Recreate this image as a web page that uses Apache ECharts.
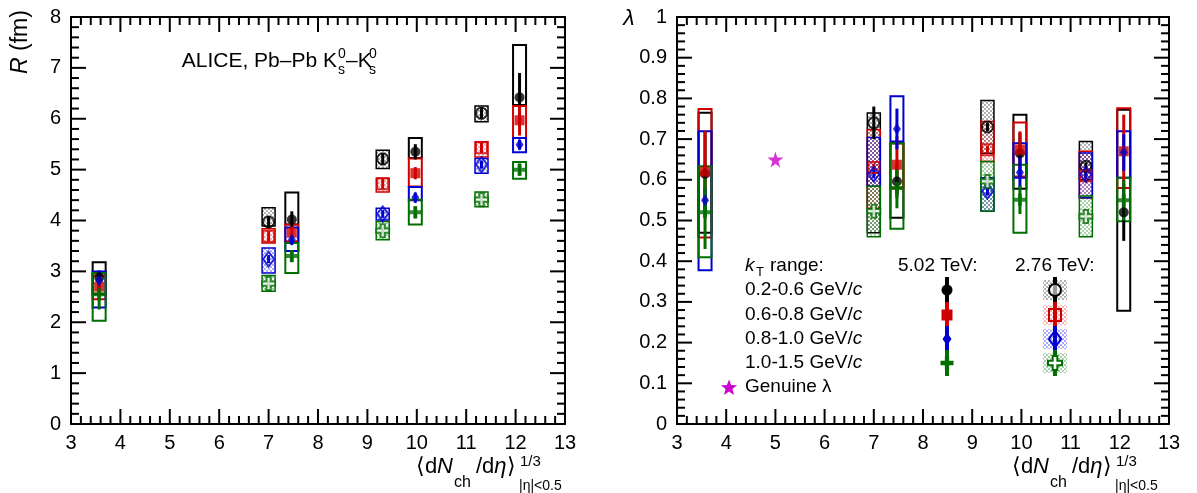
<!DOCTYPE html>
<html>
<head>
<meta charset="utf-8">
<script src="https://cdn.jsdelivr.net/npm/echarts@6/dist/echarts.min.js"></script>
<style>
  html, body { margin: 0; padding: 0; background: #fff; }
  #chart { width: 1197px; height: 493px; }
</style>
</head>
<body>
<div id="chart"></div>
<script>
// kT bins, centrality positions <dNch/deta>^(1/3)
const kTBins = ['0.2-0.6', '0.6-0.8', '0.8-1.0', '1.0-1.5'];
const x502 = [3.57, 7.47, 9.97, 12.08];
const x276 = [7.0, 9.31, 11.31];

// R (fm), 5.02 TeV  (rows = kT bins)
const R502Val = [[2.88, 4.02, 5.35, 6.42], [2.70, 3.76, 4.93, 5.97], [2.82, 3.62, 4.45, 5.49], [2.55, 3.30, 4.16, 5.00]];
const R502Stat = [[0.12, 0.16, 0.15, 0.48], [0.15, 0.12, 0.12, 0.30], [0.20, 0.10, 0.10, 0.10], [0.30, 0.12, 0.12, 0.12]];
const R502SysLo = [[2.55, 3.92, 5.23, 6.27], [2.45, 3.59, 4.67, 5.62], [2.29, 3.40, 4.40, 5.34], [2.03, 2.97, 3.92, 4.82]];
const R502SysHi = [[3.18, 4.55, 5.62, 7.45], [2.92, 3.92, 5.22, 6.25], [3.00, 3.86, 4.66, 5.62], [2.97, 3.56, 4.41, 5.15]];
// R (fm), 2.76 TeV
const R276Val = [[3.97, 5.21, 6.11], [3.69, 4.72, 5.43], [3.24, 4.13, 5.10], [2.76, 3.80, 4.41]];
const R276Stat = [[0.12, 0.12, 0.12], [0.10, 0.10, 0.10], [0.08, 0.08, 0.08], [0.08, 0.08, 0.08]];
const R276SysLo = [[3.89, 5.02, 5.94], [3.56, 4.56, 5.25], [2.97, 4.01, 4.93], [2.61, 3.62, 4.27]];
const R276SysHi = [[4.25, 5.38, 6.25], [3.84, 4.83, 5.55], [3.46, 4.24, 5.22], [2.92, 3.98, 4.56]];

// lambda, 5.02 TeV
const L502Val = [[0.615, 0.596, 0.665, 0.52], [0.62, 0.637, 0.674, 0.67], [0.55, 0.725, 0.618, 0.667], [0.52, 0.58, 0.551, 0.55]];
const L502Stat = [[0.105, 0.04, 0.05, 0.07], [0.10, 0.07, 0.045, 0.09], [0.03, 0.05, 0.04, 0.045], [0.09, 0.05, 0.035, 0.05]];
const L502SysLo = [[0.47, 0.507, 0.578, 0.278], [0.458, 0.58, 0.608, 0.58], [0.378, 0.694, 0.605, 0.605], [0.41, 0.48, 0.47, 0.498]];
const L502SysHi = [[0.765, 0.69, 0.76, 0.772], [0.774, 0.69, 0.741, 0.776], [0.719, 0.805, 0.69, 0.719], [0.633, 0.69, 0.637, 0.605]];
// lambda, 2.76 TeV
const L276Val = [[0.74, 0.73, 0.633], [0.63, 0.674, 0.61], [0.614, 0.572, 0.613], [0.523, 0.596, 0.51]];
const L276Stat = [[0.04, 0.01, 0.01], [0.01, 0.01, 0.01], [0.01, 0.01, 0.01], [0.01, 0.01, 0.01]];
const L276SysLo = [[0.47, 0.665, 0.60], [0.53, 0.645, 0.555], [0.584, 0.523, 0.556], [0.46, 0.523, 0.46]];
const L276SysHi = [[0.764, 0.795, 0.694], [0.723, 0.743, 0.67], [0.704, 0.605, 0.666], [0.584, 0.645, 0.56]];

// genuine lambda
const genuineX = [5.0];
const genuineL = [0.65];

// axis ranges / ticks: [min, max, major step]
const xTicks = [3, 13, 1];
const rTicks = [0, 8, 1];
const lTicks = [0, 1, 0.1];

const FONT = 'Liberation Sans';
const colors = ['#000000', '#d00000', '#0000d0', '#006e00'];
const hatchRGBA = ['rgba(0,0,0,0.3)', 'rgba(220,0,0,0.28)', 'rgba(0,0,220,0.32)', 'rgba(0,110,0,0.32)'];
const crossPath = 'path://M1,0L2,0L2,1L3,1L3,2L2,2L2,3L1,3L1,2L0,2L0,1L1,1Z';
const starPath = 'path://M50,0L61,35L98,35L68,57L79,91L50,70L21,91L32,57L2,35L39,35Z';
const symbols = ['circle', 'rect', 'diamond', crossPath];
const closedSizes = [10, 10, [8, 12], 12];
const openSizes = [11, 11, [11, 15], 13];

// plot frames (pixels)
const grids = [
  { left: 71, top: 17, width: 494, height: 407 },
  { left: 677, top: 17, width: 492, height: 407 }
];

function checker(rgba) {
  const c = document.createElement('canvas');
  c.width = 4; c.height = 4;
  const g = c.getContext('2d');
  g.fillStyle = rgba;
  g.fillRect(0, 0, 2, 2);
  g.fillRect(2, 2, 2, 2);
  return { image: c, repeat: 'repeat' };
}
const hatches = hatchRGBA.map(checker);

// systematic boxes
function boxSeries(axis, xs, lo, hi, k, hatched) {
  return {
    type: 'custom', xAxisIndex: axis, yAxisIndex: axis, z: 2,
    data: xs.map((x, i) => [x, lo[i], hi[i]]),
    renderItem: (params, api) => {
      const t = api.coord([api.value(0), api.value(2)]);
      const b = api.coord([api.value(0), api.value(1)]);
      return {
        type: 'rect',
        shape: { x: t[0] - 6.5, y: t[1], width: 13, height: b[1] - t[1] },
        style: { fill: hatched ? hatches[k] : 'none', stroke: colors[k], lineWidth: hatched ? 1.5 : 2 }
      };
    }
  };
}

// statistical error bars
function statSeries(axis, xs, val, err, k) {
  return {
    type: 'custom', xAxisIndex: axis, yAxisIndex: axis, z: 3,
    data: xs.map((x, i) => [x, val[i] - err[i], val[i] + err[i]]),
    renderItem: (params, api) => {
      const t = api.coord([api.value(0), api.value(2)]);
      const b = api.coord([api.value(0), api.value(1)]);
      return {
        type: 'line',
        shape: { x1: t[0], y1: t[1], x2: b[0], y2: b[1] },
        style: { stroke: colors[k], lineWidth: 3 }
      };
    }
  };
}

function markerSeries(axis, xs, val, k, open) {
  return {
    type: 'scatter', xAxisIndex: axis, yAxisIndex: axis, z: 4,
    symbol: symbols[k],
    symbolSize: open ? openSizes[k] : closedSizes[k],
    itemStyle: open
      ? { color: k === 3 ? '#ffffff' : 'rgba(255,255,255,0)', borderColor: colors[k], borderWidth: 2 }
      : { color: colors[k] },
    data: xs.map((x, i) => [x, val[i]])
  };
}

const series = [];
const panels = [
  [R502Val, R502Stat, R502SysLo, R502SysHi, R276Val, R276Stat, R276SysLo, R276SysHi],
  [L502Val, L502Stat, L502SysLo, L502SysHi, L276Val, L276Stat, L276SysLo, L276SysHi]
];
panels.forEach((p, axis) => {
  for (let k = 0; k < 4; k++) {
    series.push(boxSeries(axis, x276, p[6][k], p[7][k], k, true));
  }
  for (let k = 0; k < 4; k++) {
    series.push(boxSeries(axis, x502, p[2][k], p[3][k], k, false));
  }
  for (let k = 0; k < 4; k++) {
    series.push(statSeries(axis, x276, p[4][k], p[5][k], k));
    series.push(statSeries(axis, x502, p[0][k], p[1][k], k));
  }
  for (let k = 0; k < 4; k++) {
    series.push(markerSeries(axis, x276, p[4][k], k, true));
    series.push(markerSeries(axis, x502, p[0][k], k, false));
  }
});
series.push({
  type: 'scatter', xAxisIndex: 1, yAxisIndex: 1, z: 4,
  symbol: starPath, symbolSize: 16, itemStyle: { color: '#cc00cc' },
  data: genuineX.map((x, i) => [x, genuineL[i]])
});

function axis(type, gridIndex, position, t, labels) {
  return {
    type: 'value', gridIndex, position, min: t[0], max: t[1], interval: t[2],
    axisLine: { show: true, onZero: false, lineStyle: { color: '#000', width: 2 } },
    axisTick: { show: false },
    splitLine: { show: false },
    axisLabel: { show: labels, color: '#000', fontSize: 20, fontFamily: FONT, margin: type === 'x' ? 9 : 10 }
  };
}

const txt = (x, y, text, size, extra) => ({
  type: 'text', x, y,
  style: Object.assign({ text, fontSize: size || 20, fontFamily: FONT, fill: '#000', textVerticalAlign: 'middle' }, extra || {})
});
const richIt = (size) => ({
  a: { fontSize: size, fontFamily: FONT },
  i: { fontSize: size, fontFamily: FONT, fontStyle: 'italic' }
});

function xTitle(dx) {
  return [
    txt(453 + dx, 467, '{a|⟨d}{i|N}', 22, { textAlign: 'right', rich: richIt(22) }),
    txt(454 + dx, 483, 'ch', 16),
    txt(476 + dx, 467, '{a|/d}{i|η}{a|⟩}', 22, { rich: richIt(22) }),
    txt(520 + dx, 462, '1/3', 15),
    txt(519 + dx, 486, '|η|<0.5', 14)
  ];
}

const graphics = [
  // left y title
  {
    type: 'text', x: 21, y: 42, rotation: Math.PI / 2,
    style: {
      text: '{i|R}{a| (fm)}', textAlign: 'center', textVerticalAlign: 'middle', fill: '#000',
      rich: richIt(23), fontSize: 23, fontFamily: FONT
    }
  },
  txt(629, 19, 'λ', 23, { fontStyle: 'italic', textAlign: 'center' }),
  ...xTitle(0),
  ...xTitle(596),
  // ALICE label
  txt(337, 61, 'ALICE, Pb–Pb K', 21, { textAlign: 'right' }),
  txt(338, 54, '0', 14),
  txt(338, 70, 's', 14),
  txt(346, 61, '–K', 21),
  txt(369, 54, '0', 14),
  txt(369, 70, 's', 14),
  // legend (right panel)
  txt(745, 266, 'k', 19, { fontStyle: 'italic' }),
  txt(756, 272, 'T', 13),
  txt(770, 266, 'range:', 19),
  txt(898, 266, '5.02 TeV:', 19),
  txt(1015, 266, '2.76 TeV:', 19),
  txt(745, 387, 'Genuine λ', 19)
];
const rowY = [290, 315, 339, 363];
kTBins.forEach((b, k) => {
  graphics.push(txt(745, rowY[k], '{a|' + b + ' GeV/}{i|c}', 19, { rich: richIt(19) }));
});

// legend markers drawn as small graphics
function legendMarker(cx, cy, k, open) {
  const els = [];
  if (open) {
    els.push({ type: 'rect', shape: { x: cx - 12, y: cy - 10, width: 24, height: 20 }, style: { fill: hatches[k] } });
  }
  els.push({ type: 'line', shape: { x1: cx, y1: cy - 13, x2: cx, y2: cy + 13 }, style: { stroke: colors[k], lineWidth: 4 } });
  const fill = open ? (k === 3 ? '#fff' : 'rgba(255,255,255,0)') : colors[k];
  const st = open ? { fill, stroke: colors[k], lineWidth: 2 } : { fill };
  const r = open ? 6 : 5.5;
  if (k === 0) {
    els.push({ type: 'circle', shape: { cx, cy, r }, style: Object.assign({}, st, open ? { fill: 'rgba(255,255,255,0.6)' } : {}) });
  } else if (k === 1) {
    els.push({ type: 'rect', shape: { x: cx - r, y: cy - r, width: 2 * r, height: 2 * r }, style: st });
  } else if (k === 2) {
    const w = open ? 6 : 4.5, h = open ? 8.5 : 6.5;
    els.push({ type: 'polygon', shape: { points: [[cx, cy - h], [cx + w, cy], [cx, cy + h], [cx - w, cy]] }, style: st });
  } else {
    const a = open ? 7 : 6.5, c = a / 3;
    els.push({
      type: 'polygon', style: st,
      shape: { points: [[cx - c, cy - a], [cx + c, cy - a], [cx + c, cy - c], [cx + a, cy - c], [cx + a, cy + c], [cx + c, cy + c],
        [cx + c, cy + a], [cx - c, cy + a], [cx - c, cy + c], [cx - a, cy + c], [cx - a, cy - c], [cx - c, cy - c]] }
    });
  }
  return els;
}
kTBins.forEach((b, k) => {
  graphics.push(...legendMarker(947, rowY[k], k, false));
  graphics.push(...legendMarker(1055, rowY[k], k, true));
});
// star
(function () {
  const pts = [];
  for (let i = 0; i < 10; i++) {
    const ang = -Math.PI / 2 + i * Math.PI / 5;
    const rr = i % 2 === 0 ? 8.5 : 3.6;
    pts.push([729 + rr * Math.cos(ang), 388 + rr * Math.sin(ang)]);
  }
  graphics.push({ type: 'polygon', shape: { points: pts }, style: { fill: '#cc00cc' } });
})();

// ROOT-style inward ticks on all four sides (major + 4 minor), as frame decoration
function frameTicks(g, xt, yt) {
  const out = [];
  const ln = (x1, y1, x2, y2) => out.push({ type: 'line', z: 20, shape: { x1, y1, x2, y2 }, style: { stroke: '#000', lineWidth: 2 } });
  const x0 = g.left, x1 = g.left + g.width, y0 = g.top + g.height, y1 = g.top;
  const nx = Math.round((xt[1] - xt[0]) / xt[2]) * 5;
  for (let i = 1; i < nx; i++) {
    const px = x0 + g.width * i / nx;
    const len = i % 5 === 0 ? 15 : 8;
    ln(px, y0, px, y0 - len);
    ln(px, y1, px, y1 + len);
  }
  const ny = Math.round((yt[1] - yt[0]) / yt[2]) * 5;
  for (let i = 1; i < ny; i++) {
    const py = y0 - g.height * i / ny;
    const len = i % 5 === 0 ? 15 : 8;
    ln(x0, py, x0 + len, py);
    ln(x1, py, x1 - len, py);
  }
  return out;
}
graphics.push(...frameTicks(grids[0], xTicks, rTicks), ...frameTicks(grids[1], xTicks, lTicks));

const chart = echarts.init(document.getElementById('chart'));
chart.setOption({
  animation: false,
  backgroundColor: '#fff',
  grid: grids,
  xAxis: [
    axis('x', 0, 'bottom', xTicks, true),
    axis('x', 1, 'bottom', xTicks, true),
    axis('x', 0, 'top', xTicks, false),
    axis('x', 1, 'top', xTicks, false)
  ],
  yAxis: [
    axis('y', 0, 'left', rTicks, true),
    axis('y', 1, 'left', lTicks, true),
    axis('y', 0, 'right', rTicks, false),
    axis('y', 1, 'right', lTicks, false)
  ],
  graphic: graphics,
  series: series
});
</script>
</body>
</html>
